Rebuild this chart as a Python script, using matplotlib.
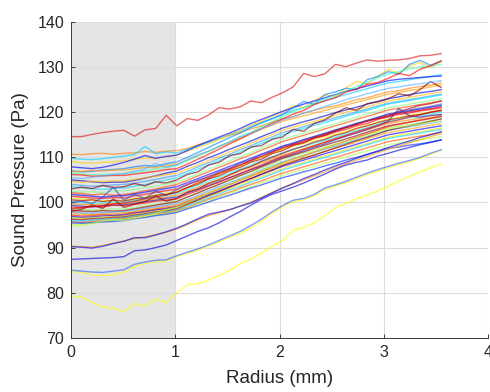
import numpy as np
import matplotlib
matplotlib.use('Agg')
import matplotlib.pyplot as plt

plt.rcParams['font.family'] = ['Liberation Sans', 'DejaVu Sans']

# radius sampling (mm)
radius = np.linspace(0, 3.55, 36)

# sound pressure curves (Pa)
top_red = [114.6, 114.6, 115.1, 115.5, 115.8, 116.0, 114.7, 116.1, 116.4, 119.3, 117.0, 118.6,
           118.2, 119.4, 121.0, 120.7, 121.2, 122.5, 122.1, 123.3, 124.3, 125.6, 128.6, 127.9,
           128.5, 130.6, 130.1, 130.9, 131.6, 131.3, 131.5, 131.6, 131.9, 132.5, 132.6, 133.0]
low_yellow = [79.3, 79.0, 77.8, 76.8, 76.6, 75.8, 77.6, 77.0, 78.6, 77.8, 80.0, 81.8,
              82.0, 82.8, 83.9, 85.0, 86.5, 87.4, 88.8, 90.3, 91.6, 93.8, 94.5, 95.5,
              97.0, 98.9, 99.8, 100.8, 101.6, 102.6, 103.6, 104.8, 105.8, 106.8, 107.7, 108.6]
pair_yellow = [84.7, 84.5, 84.0, 83.8, 84.0, 84.6, 85.8, 86.5, 86.9, 87.0, 88.0, 88.8,
               89.4, 90.3, 91.3, 92.3, 93.2, 94.4, 95.9, 97.5, 99.0, 100.2, 100.6, 101.5,
               102.9, 103.6, 104.4, 105.3, 106.2, 107.0, 107.7, 108.4, 109.0, 109.8, 110.7, 111.5]
pair_blue = [85.0, 84.8, 84.6, 84.5, 84.8, 85.1, 86.3, 86.8, 87.2, 87.3, 88.2, 89.0,
             89.7, 90.6, 91.6, 92.6, 93.6, 94.9, 96.3, 97.9, 99.3, 100.5, 100.9, 101.8,
             103.2, 103.9, 104.7, 105.6, 106.5, 107.3, 108.0, 108.7, 109.3, 110.0, 110.9, 111.7]
low_blue = [87.4, 87.5, 87.6, 87.7, 87.8, 88.0, 89.3, 89.5, 90.0, 90.6, 91.6, 92.6,
            93.6, 94.4, 95.5, 96.8, 98.0, 99.4, 100.7, 101.8, 102.6, 103.4, 104.3, 105.3,
            106.3, 107.4, 108.3, 108.9, 109.4, 110.3, 110.9, 111.6, 112.2, 112.8, 113.3, 113.9]
mid_blue = [90.2, 90.1, 89.9, 90.3, 90.9, 91.4, 92.2, 92.2, 92.8, 93.5, 94.3, 95.3,
            96.4, 97.4, 97.9, 98.4, 99.2, 99.9, 101.0, 102.1, 103.2, 104.2, 105.3, 106.2,
            107.2, 108.1, 108.9, 109.8, 110.6, 111.4, 112.2, 112.9, 113.6, 114.4, 115.0, 115.7]
mid_orange = [90.4, 90.2, 90.1, 90.5, 91.0, 91.5, 92.0, 92.4, 92.9, 93.4, 94.1, 95.1,
              96.2, 97.1, 97.7, 98.4, 99.2, 100.0, 101.1, 102.2, 103.3, 104.1, 105.0, 105.9,
              106.8, 107.7, 108.6, 109.4, 110.2, 111.0, 111.8, 112.5, 113.2, 113.9, 114.6, 115.2]

s01 = [110.7, 110.6, 110.8, 110.9, 110.7, 110.9, 111.0, 111.3, 111.1, 111.4, 111.5, 112.0,
       112.8, 113.4, 114.1, 114.9, 115.5, 116.3, 117.0, 117.8, 118.5, 119.0, 119.8, 120.4,
       121.0, 121.4, 122.1, 122.8, 123.2, 123.9, 124.5, 124.8, 125.3, 125.7, 126.0, 126.5]
s02 = [109.8, 109.6, 109.5, 109.7, 110.0, 110.3, 110.6, 112.4, 110.8, 111.2, 111.0, 111.8,
       112.5, 113.3, 114.2, 115.0, 115.9, 116.8, 117.6, 118.5, 119.5, 120.4, 121.0, 121.9,
       122.6, 123.3, 123.9, 124.6, 125.2, 125.9, 126.5, 126.8, 127.2, 127.6, 127.9, 128.3]
s03 = [109.1, 108.8, 108.7, 108.9, 109.0, 109.3, 109.5, 109.9, 109.7, 110.2, 110.5, 111.4,
       112.2, 113.0, 114.0, 115.1, 116.0, 117.2, 118.0, 119.1, 120.0, 121.5, 121.0, 122.6,
       123.8, 123.5, 125.4, 126.8, 126.2, 128.0, 129.5, 128.6, 130.2, 131.0, 130.0, 131.2]
s04 = [107.9, 107.7, 107.5, 107.8, 108.3, 108.9, 109.6, 110.4, 109.8, 110.2, 110.5, 111.5,
       112.6, 113.6, 114.5, 115.4, 116.4, 117.5, 118.4, 119.3, 120.2, 121.0, 121.8, 122.5,
       123.2, 123.9, 124.6, 125.2, 125.8, 126.4, 127.0, 127.3, 127.5, 127.7, 127.9, 128.0]
s05 = [107.0, 106.8, 106.9, 107.2, 107.3, 107.5, 107.9, 108.2, 108.0, 108.6, 109.0, 110.0,
       111.1, 112.2, 113.3, 114.4, 115.4, 116.6, 117.7, 118.6, 119.5, 121.0, 122.4, 121.8,
       123.9, 124.5, 125.3, 125.0, 127.2, 127.9, 129.0, 128.4, 130.6, 131.5, 130.4, 131.3]
s06 = [106.8, 106.9, 107.1, 107.0, 107.2, 107.2, 107.5, 107.8, 107.7, 108.2, 108.5, 109.4,
       110.4, 111.3, 112.3, 113.3, 114.2, 115.2, 116.2, 117.1, 118.0, 118.6, 119.2, 119.8,
       120.4, 121.0, 121.6, 122.2, 122.8, 123.4, 124.0, 124.4, 124.8, 125.2, 125.6, 126.0]
s07 = [106.5, 106.3, 106.1, 106.2, 106.3, 106.4, 106.7, 107.1, 107.4, 107.8, 108.2, 109.2,
       110.3, 111.3, 112.4, 113.5, 114.6, 115.6, 116.8, 117.9, 119.0, 120.1, 121.0, 121.9,
       122.9, 123.8, 124.7, 125.7, 126.6, 127.6, 128.5, 129.0, 129.6, 130.0, 130.2, 130.6]
s08 = [106.2, 106.1, 105.8, 105.9, 106.0, 106.0, 106.3, 106.6, 106.9, 107.3, 107.5, 108.5,
       109.6, 110.7, 111.8, 113.0, 114.1, 115.3, 116.4, 117.5, 118.5, 119.6, 120.4, 121.7,
       122.5, 123.2, 124.5, 125.1, 126.2, 126.6, 127.5, 128.6, 128.1, 129.5, 130.3, 131.4]
s09 = [105.0, 104.8, 104.6, 104.4, 104.5, 104.5, 104.9, 105.4, 105.9, 106.5, 107.0, 108.0,
       108.9, 109.9, 110.8, 111.8, 112.7, 113.6, 114.6, 115.5, 116.5, 117.2, 117.9, 118.5,
       119.2, 119.9, 120.5, 121.1, 121.8, 122.4, 123.0, 123.4, 123.9, 124.3, 124.6, 125.0]
s10 = [104.6, 104.5, 104.7, 104.6, 104.8, 104.8, 105.1, 105.5, 105.8, 106.2, 106.5, 107.4,
       108.3, 109.3, 110.2, 111.2, 112.1, 113.1, 114.1, 115.0, 116.0, 116.7, 117.3, 118.0,
       118.6, 119.3, 120.0, 120.6, 121.2, 121.9, 122.5, 122.9, 123.3, 123.7, 124.1, 124.5]
s11 = [104.0, 103.8, 103.6, 103.7, 103.9, 104.0, 104.3, 104.7, 105.1, 105.6, 106.0, 106.9,
       107.9, 108.8, 109.8, 110.7, 111.7, 112.6, 113.6, 114.5, 115.5, 116.1, 116.8, 117.5,
       118.1, 118.8, 119.4, 120.1, 120.7, 121.4, 122.0, 122.4, 122.8, 123.2, 123.6, 124.0]
s12 = [103.5, 103.3, 103.0, 102.9, 103.1, 103.2, 103.6, 104.0, 104.5, 105.0, 105.5, 106.4,
       107.4, 108.3, 109.3, 110.2, 111.2, 112.1, 113.1, 114.0, 115.0, 115.7, 116.4, 117.1,
       117.7, 118.4, 119.1, 119.8, 120.4, 121.1, 121.8, 122.2, 122.6, 123.0, 123.4, 123.8]
s13 = [103.0, 103.4, 103.1, 103.8, 103.3, 103.5, 104.2, 103.7, 104.6, 104.3, 105.0, 106.2,
       106.8, 108.3, 108.9, 110.4, 110.8, 112.3, 112.6, 114.0, 114.5, 116.2, 115.8, 117.5,
       118.3, 119.8, 121.0, 120.4, 121.9, 122.3, 123.0, 124.1, 123.6, 125.0, 126.8, 125.5]
s14 = [102.5, 102.3, 102.4, 102.2, 102.5, 102.6, 102.9, 103.3, 103.6, 104.1, 104.5, 105.4,
       106.4, 107.3, 108.3, 109.2, 110.2, 111.1, 112.1, 113.0, 114.0, 114.7, 115.4, 116.1,
       116.8, 117.5, 118.2, 118.9, 119.6, 120.3, 121.0, 121.4, 121.8, 122.2, 122.6, 123.0]
s15 = [102.2, 102.0, 101.7, 101.9, 101.6, 101.8, 102.1, 102.6, 103.0, 103.5, 104.0, 104.9,
       105.9, 106.8, 107.8, 108.7, 109.7, 110.6, 111.6, 112.5, 113.5, 114.2, 114.9, 115.6,
       116.3, 117.0, 117.7, 118.4, 119.1, 119.8, 120.5, 120.9, 121.3, 121.7, 122.1, 122.5]
s16 = [101.8, 101.6, 101.4, 101.2, 101.4, 101.5, 101.9, 102.3, 102.7, 103.1, 103.5, 104.4,
       105.3, 106.2, 107.1, 108.0, 108.9, 109.8, 110.7, 111.6, 112.5, 113.2, 113.9, 114.6,
       115.3, 116.0, 116.7, 117.4, 118.1, 118.8, 119.5, 119.9, 120.3, 120.7, 121.1, 121.5]
s17 = [101.4, 101.2, 101.0, 100.9, 101.1, 101.0, 101.5, 101.8, 102.3, 102.6, 103.0, 104.0,
       104.8, 105.8, 106.5, 107.6, 108.3, 109.4, 110.1, 111.2, 112.0, 112.8, 113.3, 114.2,
       114.8, 115.6, 116.2, 117.0, 117.5, 118.4, 119.0, 119.5, 119.8, 120.3, 120.6, 121.0]
s18 = [101.0, 100.8, 100.5, 100.3, 100.4, 100.5, 100.9, 101.3, 101.7, 102.1, 102.5, 103.4,
       104.4, 105.3, 106.3, 107.2, 108.1, 109.1, 110.0, 110.9, 111.8, 112.5, 113.1, 113.8,
       114.5, 115.1, 115.8, 116.5, 117.1, 117.8, 118.5, 118.9, 119.3, 119.7, 120.1, 120.5]
s19 = [100.6, 100.4, 100.6, 100.2, 100.5, 100.3, 100.8, 101.0, 101.6, 101.8, 102.2, 103.3,
       104.0, 105.2, 105.9, 107.0, 107.8, 108.9, 109.6, 110.8, 111.5, 112.6, 113.2, 114.3,
       114.9, 115.8, 116.6, 117.3, 118.2, 118.6, 119.0, 120.2, 120.8, 121.5, 121.9, 122.5]
s20 = [100.2, 100.0, 99.8, 99.9, 100.1, 100.0, 100.4, 100.8, 101.2, 101.6, 102.0, 102.9,
       103.8, 104.7, 105.6, 106.5, 107.4, 108.3, 109.2, 110.1, 111.0, 111.7, 112.4, 113.1,
       113.8, 114.5, 115.2, 115.9, 116.6, 117.3, 118.0, 118.4, 118.8, 119.2, 119.6, 120.0]
s21 = [99.8, 99.6, 99.5, 99.6, 99.8, 99.7, 100.1, 100.4, 100.8, 101.2, 101.6, 102.5,
       103.4, 104.3, 105.2, 106.1, 107.0, 107.9, 108.8, 109.6, 110.5, 111.2, 111.9, 112.6,
       113.3, 114.0, 114.7, 115.4, 116.1, 116.8, 117.5, 117.9, 118.3, 118.7, 119.1, 119.5]
s22 = [99.4, 99.2, 99.0, 99.3, 99.4, 99.5, 99.8, 100.2, 100.5, 100.9, 101.2, 102.1,
       102.9, 103.8, 104.6, 105.5, 106.4, 107.3, 108.1, 109.1, 110.0, 110.7, 111.5, 112.3,
       113.0, 113.9, 114.7, 115.4, 116.2, 117.0, 118.0, 120.8, 119.2, 118.9, 119.3, 119.5]
s23 = [99.0, 98.9, 99.2, 99.0, 99.4, 99.3, 99.6, 99.9, 100.3, 100.5, 100.8, 101.8,
       102.6, 103.6, 104.5, 105.5, 106.4, 107.4, 108.3, 109.3, 110.2, 111.0, 111.8, 112.6,
       113.4, 114.2, 114.9, 115.7, 116.4, 117.1, 117.8, 118.3, 118.9, 119.4, 120.0, 120.5]
s24 = [98.7, 98.5, 98.3, 98.4, 98.6, 98.5, 98.9, 99.3, 99.6, 100.0, 100.4, 101.3,
       102.2, 103.1, 104.0, 104.9, 105.8, 106.7, 107.6, 108.5, 109.5, 110.2, 110.9, 111.6,
       112.3, 113.0, 113.7, 114.4, 115.1, 115.8, 116.5, 116.9, 117.3, 117.7, 118.1, 118.5]
s25 = [98.3, 98.1, 98.0, 98.2, 98.1, 98.2, 98.6, 99.0, 99.4, 99.8, 100.2, 101.2,
       102.1, 103.1, 104.0, 105.0, 106.0, 106.9, 107.9, 108.8, 109.8, 110.5, 111.2, 112.0,
       112.7, 113.4, 114.1, 114.8, 115.6, 116.3, 117.0, 117.4, 117.8, 118.2, 118.6, 119.0]
s26 = [97.9, 97.7, 97.6, 97.8, 97.9, 98.0, 98.3, 98.7, 99.0, 99.4, 99.8, 100.7,
       101.6, 102.6, 103.5, 104.4, 105.3, 106.2, 107.2, 108.1, 109.0, 109.7, 110.4, 111.1,
       111.8, 112.5, 113.2, 113.9, 114.6, 115.3, 116.0, 116.4, 116.8, 117.2, 117.6, 118.0]
s27 = [97.6, 97.4, 97.3, 97.5, 97.6, 97.7, 98.0, 98.4, 98.7, 99.1, 99.5, 100.4,
       101.3, 102.2, 103.1, 104.0, 104.9, 105.8, 106.7, 107.6, 108.5, 109.2, 109.9, 110.6,
       111.3, 112.0, 112.7, 113.4, 114.1, 114.8, 115.5, 115.9, 116.3, 116.7, 117.1, 117.5]
s28 = [97.2, 97.0, 97.1, 97.3, 97.2, 97.4, 97.8, 98.1, 98.5, 98.8, 99.2, 100.2,
       101.1, 102.1, 103.0, 104.0, 105.0, 105.9, 106.9, 107.8, 108.8, 109.6, 110.4, 111.2,
       112.0, 112.8, 113.6, 114.4, 115.2, 116.0, 116.8, 117.3, 117.8, 118.3, 118.7, 119.2]
s29 = [96.9, 96.7, 96.8, 97.0, 97.1, 97.2, 97.6, 97.9, 98.3, 98.6, 99.0, 99.9,
       100.8, 101.7, 102.6, 103.5, 104.4, 105.3, 106.2, 107.1, 108.0, 108.7, 109.4, 110.1,
       110.8, 111.5, 112.2, 112.9, 113.6, 114.3, 115.0, 115.4, 115.8, 116.2, 116.6, 117.0]
s30 = [96.6, 96.5, 96.6, 96.8, 96.9, 97.0, 97.4, 97.7, 98.1, 98.4, 98.8, 99.7,
       100.5, 101.4, 102.3, 103.1, 104.0, 104.9, 105.8, 106.6, 107.5, 108.2, 108.9, 109.6,
       110.3, 111.0, 111.7, 112.4, 113.1, 113.8, 114.5, 114.9, 115.3, 115.7, 116.1, 116.5]
s31 = [96.3, 96.2, 96.4, 96.5, 96.7, 96.8, 97.2, 97.5, 97.9, 98.2, 98.6, 99.6,
       100.5, 101.5, 102.4, 103.4, 104.4, 105.3, 106.3, 107.2, 108.2, 109.0, 109.8, 110.5,
       111.3, 112.1, 112.9, 113.7, 114.4, 115.2, 116.0, 116.5, 117.0, 117.5, 118.0, 118.5]
s32 = [96.0, 95.9, 96.1, 96.3, 96.4, 96.6, 97.0, 97.3, 97.7, 98.0, 98.4, 99.3,
       100.1, 101.0, 101.9, 102.8, 103.6, 104.5, 105.4, 106.3, 107.2, 107.9, 108.6, 109.3,
       110.0, 110.7, 111.4, 112.1, 112.8, 113.5, 114.2, 114.6, 115.0, 115.4, 115.8, 116.2]
s33 = [95.7, 95.6, 95.8, 96.0, 96.2, 96.4, 96.8, 97.1, 97.5, 97.8, 98.2, 99.0,
       99.8, 100.7, 101.5, 102.3, 103.2, 104.0, 104.8, 105.7, 106.5, 107.2, 107.9, 108.6,
       109.3, 110.0, 110.7, 111.4, 112.1, 112.8, 113.5, 113.9, 114.3, 114.7, 115.1, 115.5]
s34 = [95.0, 95.2, 95.5, 95.8, 96.0, 96.2, 96.6, 96.9, 97.3, 97.6, 98.0, 98.8,
       99.6, 100.4, 101.2, 102.0, 102.8, 103.6, 104.4, 105.2, 106.0, 106.7, 107.4, 108.0,
       108.7, 109.4, 110.1, 110.8, 111.4, 112.1, 112.8, 113.2, 113.5, 113.9, 114.2, 114.6]
s35 = [95.5, 95.4, 95.5, 95.7, 95.8, 96.0, 96.4, 96.7, 97.1, 97.4, 97.8, 98.6,
       99.3, 100.1, 100.9, 101.6, 102.4, 103.2, 103.9, 104.7, 105.5, 106.1, 106.8, 107.4,
       108.1, 108.7, 109.4, 110.0, 110.7, 111.3, 112.0, 112.3, 112.7, 113.0, 113.4, 113.8]
s36 = [100.0, 100.3, 99.8, 101.2, 103.4, 100.5, 101.8, 100.9, 102.5, 101.6, 102.8, 103.9,
       104.9, 105.6, 106.8, 107.5, 108.7, 109.4, 110.6, 111.3, 112.4, 113.0, 113.9, 114.6,
       115.3, 116.1, 116.8, 117.6, 118.1, 118.9, 119.6, 120.0, 120.5, 120.9, 121.3, 121.8]
s37 = [98.0, 98.5, 99.4, 98.7, 100.8, 98.9, 99.6, 100.2, 101.4, 100.3, 100.9, 102.3,
       103.0, 104.2, 105.0, 106.1, 107.2, 108.0, 109.1, 110.0, 110.9, 111.8, 112.5, 113.4,
       114.0, 114.9, 115.5, 116.4, 117.0, 117.7, 118.3, 118.7, 119.2, 119.5, 120.0, 120.3]
s38 = [105.5, 105.3, 105.6, 105.9, 106.2, 106.4, 106.9, 107.5, 108.6, 107.8, 108.4, 109.5,
       110.6, 111.4, 112.5, 113.4, 114.6, 115.2, 116.4, 117.2, 118.3, 119.0, 119.8, 120.5,
       121.3, 122.0, 122.8, 123.4, 124.1, 124.7, 125.3, 125.6, 126.0, 126.3, 126.6, 127.0]
s39 = [94.8, 95.0, 95.3, 95.9, 96.2, 96.0, 96.5, 97.0, 97.6, 98.4, 99.0, 100.0,
       101.0, 102.1, 103.0, 104.1, 105.0, 106.0, 107.0, 107.9, 108.8, 109.6, 110.5, 111.2,
       112.0, 112.8, 113.5, 114.2, 114.9, 115.6, 116.3, 116.7, 117.0, 117.4, 117.8, 118.1]
s40 = [98.6, 98.8, 99.1, 99.3, 99.7, 99.9, 100.3, 100.8, 101.2, 101.7, 102.3, 103.3,
       104.4, 105.3, 106.4, 107.3, 108.3, 109.2, 110.2, 111.1, 112.1, 112.9, 113.6, 114.4,
       115.1, 115.9, 116.6, 117.3, 118.0, 118.6, 119.3, 119.7, 120.1, 120.4, 120.8, 121.2]

curves = [
    (s01, '#ff8000'), (s02, '#00ccff'), (s03, '#ffd000'), (s04, '#0000ff'),
    (s05, '#0080ff'), (s06, '#ff9900'), (s07, '#40ffb0'), (s08, '#ff0000'),
    (s09, '#0000cc'), (s10, '#ffc000'), (s11, '#3399ff'), (s12, '#00e0ff'),
    (s13, '#800000'), (s14, '#80ff80'), (s15, '#ff4000'), (s16, '#0000ff'),
    (s17, '#ff0000'), (s18, '#ffff00'), (s19, '#a00000'), (s20, '#00ffff'),
    (s21, '#ff8000'), (s22, '#2020c0'), (s23, '#ee0000'), (s24, '#90ff70'),
    (s25, '#900000'), (s26, '#40a0ff'), (s27, '#ffa000'), (s28, '#ff2000'),
    (s29, '#0000ff'), (s30, '#ffe000'), (s31, '#800000'), (s32, '#00d0ff'),
    (s33, '#ff5000'), (s34, '#b0ff50'), (s35, '#0030ff'), (s36, '#4040c0'),
    (s37, '#a00000'), (s38, '#50b0ff'), (s39, '#c0ff40'), (s40, '#e00000'),
    (mid_orange, '#ff9900'), (mid_blue, '#0000e0'), (low_blue, '#0000e0'),
    (pair_yellow, '#ffff00'), (pair_blue, '#3060ff'), (low_yellow, '#ffff00'),
    (top_red, '#dd1111'),
]

fig = plt.figure(figsize=(4.9, 3.92), dpi=100)
ax = fig.add_axes([0.145, 0.138, 0.851, 0.806])

# shaded near-field zone
ax.axvspan(0, 1, color='#e5e5e5', lw=0, zorder=0.2)

for vals, col in curves:
    ax.plot(radius, vals, color=col, lw=1.0, alpha=0.62)

ax.set_xlim(0, 4)
ax.set_ylim(70, 140)
ax.set_xticks([0, 1, 2, 3, 4])
ax.set_yticks(range(70, 141, 10))
ax.set_axisbelow(True)
ax.grid(True, color='#dcdcdc', lw=0.8)
for side in ['top', 'right']:
    ax.spines[side].set_visible(False)
for side in ['left', 'bottom']:
    ax.spines[side].set_color('#3a3a3a')
    ax.spines[side].set_linewidth(0.7)
ax.tick_params(direction='in', length=3, width=0.7, color='#3a3a3a',
               labelcolor='#262626', labelsize=11.5, pad=5)
ax.set_xlabel('Radius (mm)', fontsize=13.5, color='#262626', labelpad=7)
ax.set_ylabel('Sound Pressure (Pa)', fontsize=13.5, color='#262626', labelpad=6)

fig.savefig('out.png', dpi=100)
